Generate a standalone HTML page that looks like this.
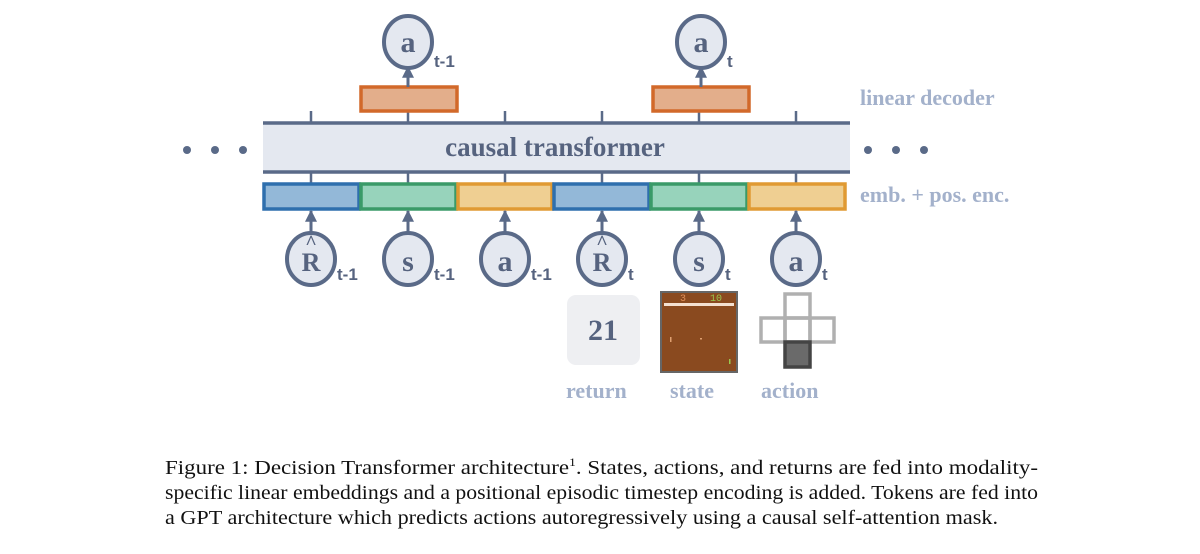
<!DOCTYPE html>
<html><head><meta charset="utf-8"><style>
html,body{margin:0;padding:0;background:#fff;}
svg{display:block;}
.lbl{font-family:"Liberation Serif",serif;font-weight:bold;}
</style></head><body>
<svg width="1200" height="554" viewBox="0 0 1200 554" xmlns="http://www.w3.org/2000/svg">
<defs>
<marker id="ah" viewBox="0 0 10 10" refX="9" refY="5" markerWidth="4" markerHeight="4" orient="auto"><path d="M0,0 L10,5 L0,10 z" fill="#5a6a88"/></marker>
</defs>
<g fill="#5a6a88">
<circle cx="187" cy="150" r="4"/><circle cx="215" cy="150" r="4"/><circle cx="243" cy="150" r="4"/>
<circle cx="868" cy="150" r="4"/><circle cx="896" cy="150" r="4"/><circle cx="924" cy="150" r="4"/>
</g>
<rect x="263" y="123" width="587" height="49" fill="#e4e8f0"/>
<line x1="263" y1="123" x2="850" y2="123" stroke="#5a6a88" stroke-width="3.5"/>
<line x1="263" y1="172" x2="850" y2="172" stroke="#5a6a88" stroke-width="3.5"/>
<text x="555" y="156" text-anchor="middle" class="lbl" font-size="27" fill="#56637f">causal transformer</text>
<g stroke="#5a6a88" stroke-width="2.5">
<line x1="311" y1="111" x2="311" y2="123"/><line x1="408" y1="111" x2="408" y2="123"/><line x1="505" y1="111" x2="505" y2="123"/>
<line x1="602" y1="111" x2="602" y2="123"/><line x1="699" y1="111" x2="699" y2="123"/><line x1="796" y1="111" x2="796" y2="123"/>
<line x1="311" y1="172" x2="311" y2="183"/><line x1="408" y1="172" x2="408" y2="183"/><line x1="505" y1="172" x2="505" y2="183"/>
<line x1="602" y1="172" x2="602" y2="183"/><line x1="699" y1="172" x2="699" y2="183"/><line x1="796" y1="172" x2="796" y2="183"/>
</g>
<g stroke-width="3.5">
<rect x="264" y="184" width="95" height="25" fill="#93b8d8" stroke="#2e6fad"/>
<rect x="361" y="184" width="95" height="25" fill="#97d3bb" stroke="#3a9a68"/>
<rect x="458" y="184" width="94" height="25" fill="#efcf92" stroke="#e09a33"/>
<rect x="554" y="184" width="95" height="25" fill="#93b8d8" stroke="#2e6fad"/>
<rect x="651" y="184" width="96" height="25" fill="#97d3bb" stroke="#3a9a68"/>
<rect x="749" y="184" width="96" height="25" fill="#efcf92" stroke="#e09a33"/>
<rect x="361" y="87" width="96" height="24" fill="#e3ae8b" stroke="#d2692a"/>
<rect x="653" y="87" width="96" height="24" fill="#e3ae8b" stroke="#d2692a"/>
</g>
<g stroke="#5a6a88" stroke-width="3" marker-end="url(#ah)">
<line x1="408" y1="87" x2="408" y2="67"/><line x1="701" y1="87" x2="701" y2="67"/>
<line x1="311" y1="234" x2="311" y2="211"/><line x1="408" y1="234" x2="408" y2="211"/><line x1="505" y1="234" x2="505" y2="211"/>
<line x1="602" y1="234" x2="602" y2="211"/><line x1="699" y1="234" x2="699" y2="211"/><line x1="796" y1="234" x2="796" y2="211"/>
</g>
<g fill="#e4e8f0" stroke="#5a6a88" stroke-width="4">
<ellipse cx="408" cy="42" rx="24" ry="26"/><ellipse cx="701" cy="42" rx="24" ry="26"/>
<ellipse cx="311" cy="259" rx="24" ry="26"/><ellipse cx="408" cy="259" rx="24" ry="26"/><ellipse cx="505" cy="259" rx="24" ry="26"/>
<ellipse cx="602" cy="259" rx="24" ry="26"/><ellipse cx="699" cy="259" rx="24" ry="26"/><ellipse cx="796" cy="259" rx="24" ry="26"/>
</g>
<g class="lbl" fill="#56637f" font-size="30" text-anchor="middle">
<text x="408" y="52">a</text><text x="701" y="52">a</text>
<text x="311" y="271" font-size="26">R</text><text x="311" y="249" font-size="20">^</text>
<text x="408" y="271">s</text><text x="505" y="271">a</text>
<text x="602" y="271" font-size="26">R</text><text x="602" y="249" font-size="20">^</text>
<text x="699" y="271">s</text><text x="796" y="271">a</text>
</g>
<g font-family="Liberation Sans,sans-serif" font-weight="bold" fill="#56637f" font-size="17">
<text x="434" y="67">t-1</text><text x="727" y="67">t</text>
<text x="337" y="280">t-1</text><text x="434" y="280">t-1</text><text x="531" y="280">t-1</text>
<text x="628" y="280">t</text><text x="725" y="280">t</text><text x="822" y="280">t</text>
</g>
<g class="lbl" fill="#a3b1cb" font-size="22">
<text x="860" y="105">linear decoder</text>
<text x="860" y="202">emb. + pos. enc.</text>
<text x="566" y="398">return</text><text x="670" y="398">state</text><text x="761" y="398">action</text>
</g>
<rect x="567" y="295" width="73" height="70" rx="9" fill="#eeeff2"/>
<text x="603" y="340" text-anchor="middle" class="lbl" font-size="30" fill="#56637f">21</text>
<rect x="661" y="292" width="76" height="80" fill="#8a4a1f" stroke="#666" stroke-width="2"/>
<rect x="664" y="303" width="70" height="3" fill="#f4e0d0"/>
<text x="680" y="301" font-family="Liberation Mono,monospace" font-size="10" fill="#e0905a">3</text>
<text x="710" y="301" font-family="Liberation Mono,monospace" font-size="10" fill="#9ac850">10</text>
<rect x="670" y="337" width="1.5" height="5" fill="#e0a070"/><rect x="700" y="338" width="2" height="1.5" fill="#e0a070"/>
<rect x="729" y="359" width="1.5" height="5" fill="#9ac850"/>
<g fill="none" stroke="#b0b0b0" stroke-width="3.5">
<rect x="785" y="294" width="25" height="24"/>
<rect x="761" y="318" width="24" height="24"/><rect x="785" y="318" width="25" height="24"/><rect x="810" y="318" width="24" height="24"/>
</g>
<rect x="785" y="342" width="25" height="25" fill="#6a6a6a" stroke="#444" stroke-width="3.5"/>
<g font-family="Liberation Serif,serif" font-size="20" fill="#111">
<text x="165" y="474" textLength="873" lengthAdjust="spacingAndGlyphs">Figure 1:   Decision Transformer architecture<tspan font-size="12" dy="-8">1</tspan><tspan dy="8">.  States, actions, and returns are fed into modality-</tspan></text>
<text x="165" y="499" textLength="873" lengthAdjust="spacingAndGlyphs">specific linear embeddings and a positional episodic timestep encoding is added. Tokens are fed into</text>
<text x="165" y="524" textLength="833" lengthAdjust="spacingAndGlyphs">a GPT architecture which predicts actions autoregressively using a causal self-attention mask.</text>
</g>
</svg>
</body></html>
